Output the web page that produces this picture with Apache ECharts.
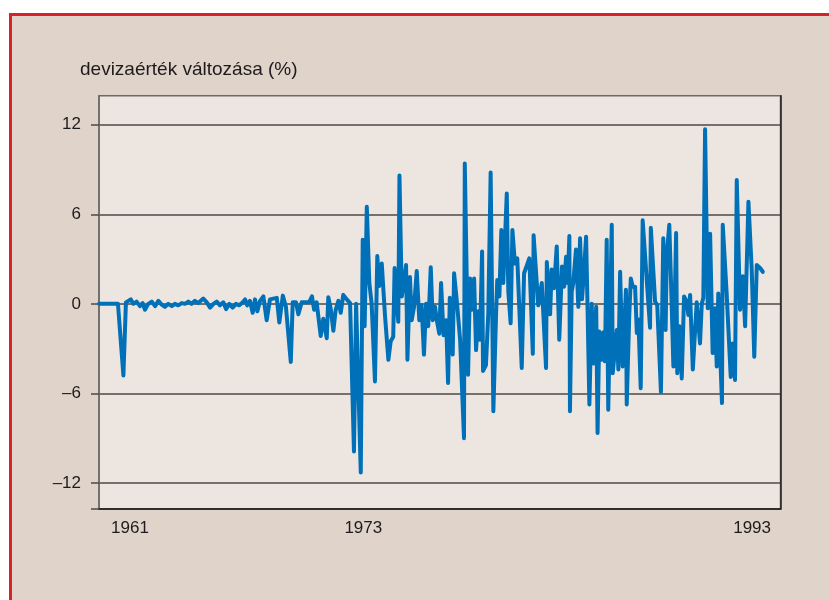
<!DOCTYPE html>
<html>
<head>
<meta charset="utf-8">
<script src="https://cdn.jsdelivr.net/npm/echarts@6/dist/echarts.min.js"></script>
<style>
  html, body { margin: 0; padding: 0; background: #ffffff; width: 829px; height: 600px; overflow: hidden; }
  #frame { position: absolute; left: 9px; top: 13px; width: 900px; height: 700px; background: #dfd3ca; border: 3px solid #d6232b; box-sizing: border-box; }
  #chart { position: absolute; left: 0; top: 0; width: 829px; height: 600px; }
</style>
</head>
<body>
<div id="frame"></div>
<div id="chart"></div>
<script>
// Time (decimal years) of each observation
const dates = [
  1959.41,1960.38,1960.45,1960.66,1960.79,1961.04,1961.17,1961.34,1961.51,1961.65,
  1961.77,1961.94,1962.12,1962.29,1962.46,1962.63,1962.80,1962.97,1963.15,1963.31,
  1963.48,1963.66,1963.83,1964.00,1964.17,1964.34,1964.51,1964.77,1964.95,1965.12,
  1965.29,1965.46,1965.63,1965.80,1965.94,1966.11,1966.28,1966.45,1966.62,1966.80,
  1966.92,1967.03,1967.17,1967.31,1967.43,1967.55,1967.69,1967.86,1968.03,1968.20,
  1968.37,1968.55,1968.68,1968.86,1969.02,1969.27,1969.37,1969.54,1969.66,1969.83,
  1970.00,1970.21,1970.36,1970.47,1970.60,1970.81,1970.94,1971.12,1971.20,1971.32,
  1971.46,1971.58,1971.72,1971.84,1971.97,1972.15,1972.32,1972.42,1972.52,1972.63,
  1972.87,1972.97,1973.07,1973.18,1973.31,1973.43,1973.60,1973.72,1973.82,1973.95,
  1974.12,1974.29,1974.41,1974.54,1974.61,1974.72,1974.80,1974.86,1974.98,1975.09,
  1975.20,1975.27,1975.40,1975.49,1975.61,1975.75,1975.88,1976.00,1976.12,1976.23,
  1976.34,1976.47,1976.57,1976.69,1976.78,1976.91,1977.00,1977.13,1977.26,1977.36,
  1977.45,1977.60,1977.67,1977.81,1977.98,1978.06,1978.18,1978.22,1978.32,1978.39,
  1978.49,1978.58,1978.70,1978.80,1978.92,1979.00,1979.11,1979.16,1979.31,1979.43,
  1979.55,1979.69,1979.83,1979.89,1980.00,1980.10,1980.20,1980.38,1980.46,1980.58,
  1980.67,1980.80,1980.92,1981.15,1981.27,1981.54,1981.72,1981.76,1982.00,1982.18,
  1982.40,1982.44,1982.61,1982.69,1982.81,1982.95,1983.08,1983.22,1983.33,1983.43,
  1983.51,1983.60,1983.63,1983.72,1983.80,1983.94,1984.06,1984.15,1984.25,1984.35,
  1984.46,1984.52,1984.63,1984.75,1984.83,1984.98,1985.05,1985.14,1985.26,1985.35,
  1985.43,1985.52,1985.60,1985.78,1985.83,1986.04,1986.12,1986.21,1986.34,1986.51,
  1986.55,1986.68,1986.76,1986.86,1986.98,1987.07,1987.15,1987.27,1987.37,1987.58,
  1987.75,1987.79,1988.01,1988.12,1988.31,1988.43,1988.55,1988.61,1988.74,1988.87,
  1988.95,1989.09,1989.15,1989.26,1989.38,1989.50,1989.64,1989.72,1989.81,1989.95,
  1990.15,1990.32,1990.41,1990.49,1990.58,1990.72,1990.84,1990.97,1991.09,1991.18,
  1991.26,1991.35,1991.45,1991.49,1991.69,1991.90,1992.00,1992.12,1992.21,1992.38,
  1992.52,1992.64,1992.81,1992.98,1993.11,1993.24,1993.41,1993.55
];

// Change of currency value (%)
const changes = [
  0,0,0.1,-4.8,0.1,0.3,0,0.15,-0.15,0.05,
  -0.4,0,0.15,-0.15,0.2,-0.05,-0.2,0,-0.15,0,
  -0.1,0.05,0,0.15,0,0.2,0.05,0.35,0.1,-0.25,
  0,0.15,-0.1,0.1,-0.35,0,-0.25,0,-0.1,0.1,
  0.3,-0.1,0.2,-0.6,0.3,-0.5,0.2,0.5,-1.1,0.3,
  0.35,0.4,-1.25,0.55,-0.2,-3.9,0.1,0.1,-0.7,0.1,
  0.1,0.1,0.5,-0.4,0.1,-2.15,-1.0,-2.3,0.45,-0.3,
  -1.8,-0.4,0.2,-0.6,0.6,0.3,0.05,0.1,-9.9,0,
  -11.3,4.3,-1.5,6.5,1.4,0,-5.2,3.2,1.2,2.7,
  -0.85,-3.75,-2.5,-2.2,2.4,0,-1.2,8.6,0.5,1.5,
  2.6,-3.75,1.8,-1.1,-0.2,2.2,-1.1,-0.1,-3.4,0,
  -1.5,2.45,-1.1,-0.2,-1.1,-2.0,1.4,-2.1,-1.1,-5.3,
  0.4,-3.4,2.05,0.2,-2.4,-2.5,-9.0,9.4,1.8,-4.75,
  1.7,-0.4,1.7,-3.1,-0.5,-2.4,3.5,-4.5,-4.1,-0.6,
  8.8,-7.2,-0.7,1.6,0.5,4.95,1.4,7.4,0.8,-1.3,
  4.95,2.7,3.05,-4.3,2.05,3.05,-3.35,4.6,-0.1,1.4,
  -4.3,2.8,-0.7,2.3,1.05,3.85,-2.4,2.5,1.15,3.15,
  1.4,4.55,-7.2,0.8,1.4,3.65,-0.2,4.4,0.3,2.15,
  4.5,0.7,-6.75,0,-4.0,-0.2,-8.65,-1.85,-3.75,-1.9,
  -3.85,4.3,-7.1,5.3,-4.65,-1.75,-4.4,2.15,-4.2,0.95,
  -6.75,-0.8,1.7,1.15,1.15,-1.95,-1.05,-5.65,5.6,1.6,
  -1.6,5.1,0.15,-0.1,-5.9,4.4,-1.75,3.3,5.3,-0.4,
  -4.2,4.75,-4.65,-1.5,-5.0,0.5,0.15,-0.75,0.6,-4.4,
  0.1,-2.65,0,0.4,11.7,-0.3,4.7,-3.3,-0.3,-4.2,
  0.7,-3.1,-6.65,5.3,0.7,-4.9,-2.65,-5.1,8.3,-0.4,
  1.85,-1.5,6.85,2.3,-3.55,2.6,2.4,2.15
];

const xTickLabels = [1961, 1973, 1993];
const yTickLabels = [-12, -6, 0, 6, 12];
const titleText = 'devizaérték változása (%)';

const pairs = dates.map((d, i) => [d, changes[i]]);

const FONT = "'Liberation Sans', Arial, Helvetica, sans-serif";
const TEXT = '#1f1b1c';

const chart = echarts.init(document.getElementById('chart'), null, { renderer: 'canvas' });
chart.setOption({
  animation: false,
  backgroundColor: 'transparent',
  title: {
    text: titleText,
    left: 80,
    top: 60,
    padding: 0,
    textStyle: { fontFamily: FONT, fontSize: 19, fontWeight: 'normal', color: TEXT }
  },
  grid: {
    left: 99, right: 48.5, top: 95.7, bottom: 91,
    show: true,
    backgroundColor: '#ede6e0',
    borderColor: '#6e6966',
    borderWidth: 1.5
  },
  xAxis: {
    type: 'value',
    min: 1959.405,
    max: 1994.46,
    axisLine: { show: true, onZero: false, lineStyle: { color: '#231f20', width: 1.5 } },
    axisTick: { show: false },
    splitLine: { show: false },
    axisLabel: {
      customValues: xTickLabels,
      formatter: v => String(Math.round(v)),
      fontFamily: FONT, fontSize: 17, color: TEXT, margin: 11
    }
  },
  yAxis: [{
    type: 'value',
    min: -13.75,
    max: 13.95,
    axisLine: { show: true, onZero: false, lineStyle: { color: '#6e6966', width: 1.5 } },
    axisTick: {
      show: true, length: 8,
      customValues: [-13.75].concat(yTickLabels),
      lineStyle: { color: '#4d4846', width: 1.5 }
    },
    axisLabel: {
      customValues: yTickLabels,
      formatter: v => (v < 0 ? '\u2013' + String(-v) : String(v)),
      fontFamily: FONT, fontSize: 17, color: TEXT, margin: 18
    },
    splitLine: { show: true, lineStyle: { color: '#4d4846', width: 1.5 } }
  }, {
    type: 'value',
    position: 'right',
    min: -13.75,
    max: 13.95,
    axisLine: { show: true, lineStyle: { color: '#231f20', width: 1.5 } },
    axisTick: { show: false },
    axisLabel: { show: false },
    splitLine: { show: false }
  }],
  series: [{
    type: 'line',
    data: pairs,
    showSymbol: false,
    symbol: 'none',
    clip: true,
    lineStyle: { color: '#0071b9', width: 4, cap: 'round', join: 'round' },
    z: 5
  }]
});
</script>
</body>
</html>
